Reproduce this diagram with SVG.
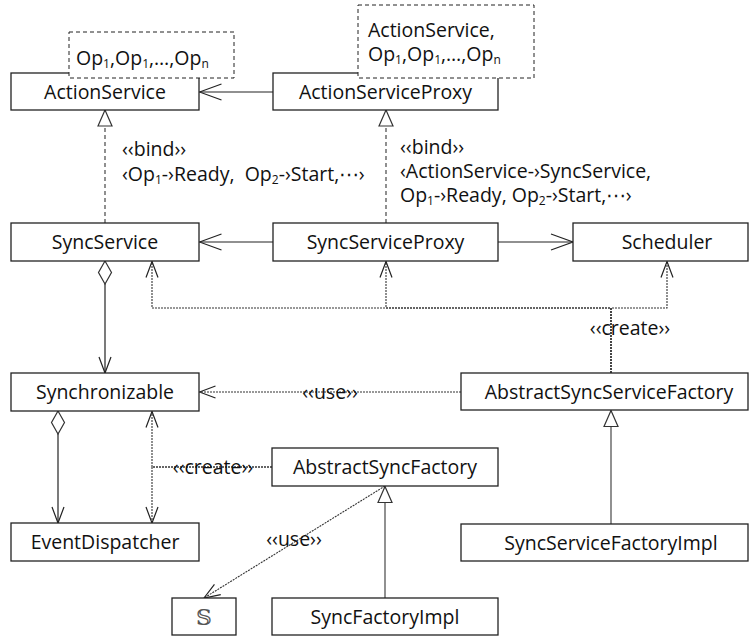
<svg xmlns="http://www.w3.org/2000/svg" width="749" height="636" viewBox="0 0 749 636">
  <style>
    text { font-family: "Open Sans", "Noto Sans", "DejaVu Sans", sans-serif; font-size: 19.5px; fill: #111; }
    .box { fill: #fff; stroke: #222; stroke-width: 1.3; }
    .tpl { fill: #fff; stroke: #222; stroke-width: 1; stroke-dasharray: 4 3; }
    .name { text-anchor: middle; }
    .sub { font-size: 12px; fill: #111; }
    .assoc { fill: none; stroke: #222; stroke-width: 1.2; }
    .gen { fill: none; stroke: #555; stroke-width: 1.3; }
    .real { fill: none; stroke: #555; stroke-width: 1.3; stroke-dasharray: 4 3; }
    .dep { fill: none; stroke: #333; stroke-width: 1.1; stroke-dasharray: 2 1; }
    .head { fill: none; stroke: #222; stroke-width: 1.2; }
    .hollow { fill: #fff; stroke: #333; stroke-width: 1.2; }
  </style>
  <defs>
    <marker id="openL" markerUnits="userSpaceOnUse" viewBox="-24 -10 26 20" markerWidth="26" markerHeight="20" refX="0" refY="0" orient="auto">
      <path class="head" d="M-22,-8 L0,0 L-22,8"/>
    </marker>
    <marker id="openS" markerUnits="userSpaceOnUse" viewBox="-18 -8 20 16" markerWidth="20" markerHeight="16" refX="0" refY="0" orient="auto-start-reverse">
      <path class="head" d="M-16,-6 L0,0 L-16,6"/>
    </marker>
    <marker id="tri" markerUnits="userSpaceOnUse" viewBox="-18 -9 20 18" markerWidth="20" markerHeight="18" refX="0" refY="0" orient="auto">
      <path class="hollow" d="M-16,-7 L0,0 L-16,7 Z"/>
    </marker>
    <marker id="diamond" markerUnits="userSpaceOnUse" viewBox="-2 -8 27 16" markerWidth="27" markerHeight="16" refX="0" refY="0" orient="auto">
      <path class="hollow" d="M0,0 L11.5,-6.5 L23,0 L11.5,6.5 Z"/>
    </marker>
  </defs>

  <!-- connectors -->
  <g id="connectors">
    <!-- associations -->
    <path class="assoc" d="M273,92 H199.5" marker-end="url(#openL)"/>
    <path class="assoc" d="M273,242 H199.5" marker-end="url(#openL)"/>
    <path class="assoc" d="M498,242 H573" marker-end="url(#openL)"/>
    <!-- aggregations -->
    <path class="assoc" d="M105,261 V373" marker-start="url(#diamond)" marker-end="url(#openS)"/>
    <path class="assoc" d="M58,411 V523" marker-start="url(#diamond)" marker-end="url(#openS)"/>
    <!-- template bindings -->
    <path class="real" d="M105,223 V110" marker-end="url(#tri)"/>
    <path class="real" d="M386,223 V110" marker-end="url(#tri)"/>
    <!-- generalizations -->
    <path class="gen" d="M611,524 V410.5" marker-end="url(#tri)"/>
    <path class="gen" d="M385,598 V486.5" marker-end="url(#tri)"/>
    <!-- create dependencies from the service factory -->
    <path class="dep" d="M611,373 V308 H152 V261.5" marker-end="url(#openS)"/>
    <path class="dep" d="M611,373 V308 H386 V261.5" marker-end="url(#openS)"/>
    <path class="dep" d="M611,373 V308 H667 V261.5" marker-end="url(#openS)"/>
    <!-- use dependency -->
    <path class="dep" d="M461,392 H199.5" marker-end="url(#openS)"/>
    <!-- create dependencies from the sync factory -->
    <path class="dep" d="M272,467 H152 V411.5" marker-end="url(#openS)"/>
    <path class="dep" d="M272,467 H152 V523" marker-end="url(#openS)"/>
    <!-- use of S -->
    <path class="dep" d="M385,486 L204,598" marker-end="url(#openS)"/>

    <!-- connector labels -->
    <text x="122" y="156">‹‹bind››</text>
    <text x="122" y="181" xml:space="preserve">‹Op<tspan class="sub" dy="3">1</tspan><tspan dy="-3">-›Ready,  Op</tspan><tspan class="sub" dy="3">2</tspan><tspan dy="-3">-›Start,⋯›</tspan></text>
    <text x="400" y="154">‹‹bind››</text>
    <text x="400" y="178">‹ActionService-›SyncService,</text>
    <text x="400" y="202">Op<tspan class="sub" dy="3">1</tspan><tspan dy="-3">-›Ready, Op</tspan><tspan class="sub" dy="3">2</tspan><tspan dy="-3">-›Start,⋯›</tspan></text>
    <text class="name" x="630" y="335">‹‹create››</text>
    <text class="name" x="330" y="399">‹‹use››</text>
    <text class="name" x="213" y="474">‹‹create››</text>
    <text class="name" x="294" y="546">‹‹use››</text>
  </g>

  <!-- classes -->
  <g id="ActionService">
    <rect class="box" x="11" y="73" width="188" height="37"/>
    <rect class="tpl" x="69" y="32" width="165" height="46"/>
    <text x="76" y="65">Op<tspan class="sub" dy="3">1</tspan><tspan dy="-3">,Op</tspan><tspan class="sub" dy="3">1</tspan><tspan dy="-3">,…,Op</tspan><tspan class="sub" dy="3">n</tspan></text>
    <text class="name" x="105" y="99">ActionService</text>
  </g>
  <g id="ActionServiceProxy">
    <rect class="box" x="273" y="73" width="225" height="37"/>
    <rect class="tpl" x="358" y="5" width="176" height="73"/>
    <text x="368" y="37">ActionService,</text>
    <text x="368" y="61">Op<tspan class="sub" dy="3">1</tspan><tspan dy="-3">,Op</tspan><tspan class="sub" dy="3">1</tspan><tspan dy="-3">,…,Op</tspan><tspan class="sub" dy="3">n</tspan></text>
    <text class="name" x="385.5" y="99">ActionServiceProxy</text>
  </g>
  <g id="SyncService">
    <rect class="box" x="11" y="223" width="188" height="38"/>
    <text class="name" x="105" y="249">SyncService</text>
  </g>
  <g id="SyncServiceProxy">
    <rect class="box" x="273" y="223" width="225" height="38"/>
    <text class="name" x="385.5" y="249">SyncServiceProxy</text>
  </g>
  <g id="Scheduler">
    <rect class="box" x="573" y="223" width="175" height="38"/>
    <text class="name" x="667" y="249">Scheduler</text>
  </g>
  <g id="Synchronizable">
    <rect class="box" x="11" y="373" width="188" height="38"/>
    <text class="name" x="105" y="399">Synchronizable</text>
  </g>
  <g id="AbstractSyncServiceFactory">
    <rect class="box" x="461" y="373" width="287" height="37"/>
    <text class="name" x="609" y="399">AbstractSyncServiceFactory</text>
  </g>
  <g id="AbstractSyncFactory">
    <rect class="box" x="272" y="448" width="226" height="38"/>
    <text class="name" x="385" y="474">AbstractSyncFactory</text>
  </g>
  <g id="EventDispatcher">
    <rect class="box" x="11" y="523" width="188" height="38"/>
    <text class="name" x="105" y="549">EventDispatcher</text>
  </g>
  <g id="SyncServiceFactoryImpl">
    <rect class="box" x="461" y="524" width="287" height="37"/>
    <text class="name" x="611" y="550">SyncServiceFactoryImpl</text>
  </g>
  <g id="S">
    <rect class="box" x="172" y="598" width="64" height="37"/>
    <text class="name" x="204" y="625" style="font-family: 'DejaVu Serif', 'DejaVu Sans', serif; font-size: 22px; fill: #555;">𝕊</text>
  </g>
  <g id="SyncFactoryImpl">
    <rect class="box" x="272" y="598" width="226" height="37"/>
    <text class="name" x="385" y="624">SyncFactoryImpl</text>
  </g>
</svg>
